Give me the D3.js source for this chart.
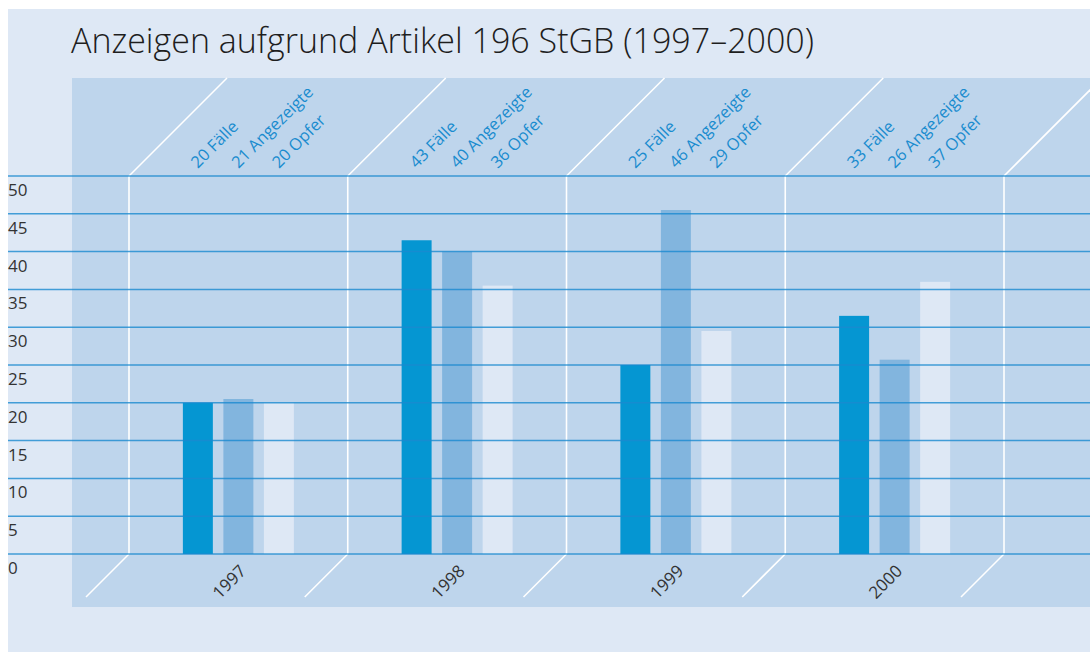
<!DOCTYPE html>
<html>
<head>
<meta charset="utf-8">
<script src="https://cdn.jsdelivr.net/npm/d3@7"></script>
<style>
body{margin:0;background:#fff;}
text{font-family:"Open Sans","Noto Sans",sans-serif;}
</style>
</head>
<body>
<div id="chart"></div>
<script>
// Daten
var years = ["1997","1998","1999","2000"]
var series = ["Fälle","Angezeigte","Opfer"]
// Balkenhöhen wie im Bild gezeichnet
var faelle = [20, 41.5, 25, 31.5]
var angezeigte = [20.5, 40, 45.5, 25.7]
var opfer = [20, 35.5, 29.5, 36]
// Beschriftungen oben
var faelleLabel = [20, 43, 25, 33]
var angezeigteLabel = [21, 40, 46, 26]
var opferLabel = [20, 36, 29, 37]
var yTicks = [0,5,10,15,20,25,30,35,40,45,50]

var width = 1090
var height = 652
var colors = ["#0596d2","#82b5de","#dee8f5"]

var svg = d3.select("#chart")
    .append("svg")
    .attr("width",width)
    .attr("height",height)

// Hintergrund
svg.append("rect")
    .attr("x",8).attr("y",9)
    .attr("width",width-8).attr("height",height-9)
    .attr("fill","#dee8f5")
svg.append("rect")
    .attr("x",72).attr("y",78)
    .attr("width",width-72).attr("height",529)
    .attr("fill","#bed5ec")

svg.append("text")
    .attr("x",71).attr("y",53)
    .attr("font-size",34)
    .attr("font-weight",300)
    .attr("fill","#1e1e1e")
    .text("Anzeigen aufgrund Artikel 196 StGB (1997–2000)")

var scaleY = d3.scaleLinear()
    .domain([0,50])
    .range([554,176])
var scaleX = d3.scaleBand()
    .domain(years)
    .range([129,1004])
var inner = d3.scaleBand()
    .domain(series)
    .range([-55.5,55.5])
    .paddingInner(0.26)

var bounds = years.map(d => scaleX(d)).concat([scaleX.range()[1]])

// weisse Trennlinien
svg.selectAll("line.sep")
    .data(bounds)
    .join("line")
    .attr("class","sep")
    .attr("x1",d => d).attr("x2",d => d)
    .attr("y1",scaleY(50)).attr("y2",scaleY(0))
    .attr("stroke","#fff").attr("stroke-width",1.6)
svg.selectAll("line.top")
    .data(bounds)
    .join("line")
    .attr("class","top")
    .attr("x1",d => d).attr("y1",scaleY(50))
    .attr("x2",d => d+98).attr("y2",78)
    .attr("stroke","#fff").attr("stroke-width",1.6)
svg.selectAll("line.bot")
    .data(bounds)
    .join("line")
    .attr("class","bot")
    .attr("x1",d => d).attr("y1",scaleY(0))
    .attr("x2",d => d-43).attr("y2",scaleY(0)+43)
    .attr("stroke","#fff").attr("stroke-width",1.6)

// Balken
var values = [faelle, angezeigte, opfer]
var labels = [faelleLabel, angezeigteLabel, opferLabel]
var rows = []
for(var i=0;i<years.length;i++){
    for(var j=0;j<series.length;j++){
        rows.push({year:years[i], key:series[j], v:values[j][i], label:labels[j][i], c:colors[j]})
    }
}
var cx = d => scaleX(d.year)+scaleX.bandwidth()/2+inner(d.key)

svg.selectAll("rect.bar")
    .data(rows)
    .join("rect")
    .attr("class","bar")
    .attr("x",cx)
    .attr("width",inner.bandwidth())
    .attr("y",d => scaleY(d.v))
    .attr("height",d => scaleY(0)-scaleY(d.v))
    .attr("fill",d => d.c)

// Gitterlinien
svg.selectAll("line.grid")
    .data(yTicks)
    .join("line")
    .attr("class","grid")
    .attr("x1",8).attr("x2",width)
    .attr("y1",d => scaleY(d)).attr("y2",d => scaleY(d))
    .attr("stroke","#1a8ad0")
    .attr("stroke-opacity",0.8)
    .attr("stroke-width",1.5)
svg.selectAll("text.ytick")
    .data(yTicks)
    .join("text")
    .attr("class","ytick")
    .attr("x",8)
    .attr("y",d => scaleY(d)+20)
    .attr("font-size",17)
    .attr("fill","#333")
    .text(d => d)

// Beschriftungen oben
svg.selectAll("text.lab")
    .data(rows)
    .join("text")
    .attr("class","lab")
    .attr("transform",d => "translate("+(cx(d)+inner.bandwidth()/2)+",169) rotate(-45)")
    .attr("font-size",16.5)
    .attr("fill","#1a8ccf")
    .text(d => d.label+" "+d.key)

// Jahre
svg.selectAll("text.year")
    .data(years)
    .join("text")
    .attr("class","year")
    .attr("transform",d => "translate("+(scaleX(d)+scaleX.bandwidth()/2-5)+",586) rotate(-45)")
    .attr("text-anchor","middle")
    .attr("font-size",17)
    .attr("fill","#333")
    .text(d => d)
</script>
</body>
</html>
